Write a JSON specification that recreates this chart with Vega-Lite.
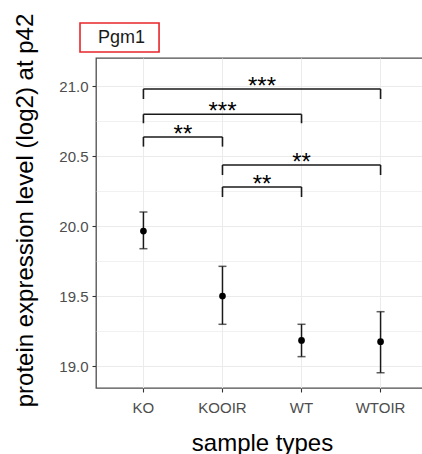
{
  "$schema": "https://vega.github.io/schema/vega-lite/v6.json",
  "width": 332,
  "height": 330,
  "autosize": {"type": "none"},
  "padding": {"left": 96, "top": 58, "right": 0, "bottom": 66},
  "config": {
    "font": "Liberation Sans",
    "view": {"stroke": "#4d4d4d", "strokeWidth": 1.3},
    "axis": {
      "domain": false,
      "gridColor": "#ebebeb",
      "tickColor": "#333333",
      "tickSize": 4,
      "tickWidth": 1.1,
      "labelColor": "#4d4d4d",
      "labelFontSize": 15,
      "titleFontSize": 24,
      "titleFontWeight": "normal",
      "titleColor": "#000000"
    }
  },
  "datasets": {
    "pts": [
      {"type": "KO", "mean": 19.964, "lo": 19.838, "hi": 20.10},
      {"type": "KOOIR", "mean": 19.50, "lo": 19.298, "hi": 19.712},
      {"type": "WT", "mean": 19.183, "lo": 19.067, "hi": 19.298},
      {"type": "WTOIR", "mean": 19.174, "lo": 18.952, "hi": 19.388}
    ],
    "br": [
      {"g1": "KO", "g2": "WTOIR", "y": 20.979, "yb": 20.907, "sig": "***", "lc": "KOOIR", "lp": "edge"},
      {"g1": "KO", "g2": "WT", "y": 20.798, "yb": 20.734, "sig": "***", "lc": "KOOIR", "lp": "center"},
      {"g1": "KO", "g2": "KOOIR", "y": 20.636, "yb": 20.567, "sig": "**", "lc": "KO", "lp": "edge"},
      {"g1": "KOOIR", "g2": "WTOIR", "y": 20.436, "yb": 20.364, "sig": "**", "lc": "WT", "lp": "center"},
      {"g1": "KOOIR", "g2": "WT", "y": 20.279, "yb": 20.207, "sig": "**", "lc": "KOOIR", "lp": "edge"}
    ],
    "ttl": [{"name": "Pgm1", "g": "KO", "top": 21.45, "bottom": 21.243, "mid": 21.346}]
  },
  "layer": [
    {
      "data": {"name": "pts"},
      "mark": {"type": "rule", "color": "#1a1a1a", "strokeWidth": 1.5},
      "encoding": {
        "x": {
          "field": "type", "type": "nominal",
          "scale": {"type": "band", "paddingInner": 0, "paddingOuter": 0.1, "domain": ["KO", "KOOIR", "WT", "WTOIR"]},
          "axis": {"title": "sample types", "labelAngle": 0, "labelPadding": 8, "titleY": 43, "grid": true, "gridWidth": 1, "bandPosition": 0.5, "tickExtra": false}
        },
        "y": {
          "field": "lo", "type": "quantitative",
          "scale": {"domain": [18.843, 21.2], "nice": false, "zero": false},
          "axis": {
            "title": "protein expression level (log2) at p42",
            "values": [19, 19.25, 19.5, 19.75, 20, 20.25, 20.5, 20.75, 21],
            "labelExpr": "datum.value % 0.5 == 0 ? format(datum.value, '.1f') : ''",
            "labelPadding": 4,
            "tickOpacity": {"condition": {"test": "datum.value % 0.5 != 0", "value": 0}, "value": 1},
            "gridWidth": {"condition": {"test": "datum.value % 0.5 != 0", "value": 0.7}, "value": 1.2},
            "titleX": -59,
            "titleY": 152
          }
        },
        "y2": {"field": "hi"}
      }
    },
    {
      "data": {"name": "pts"},
      "mark": {"type": "tick", "orient": "horizontal", "color": "#1a1a1a", "size": 8, "thickness": 1.5},
      "encoding": {"x": {"field": "type", "type": "nominal"}, "y": {"field": "lo", "type": "quantitative"}}
    },
    {
      "data": {"name": "pts"},
      "mark": {"type": "tick", "orient": "horizontal", "color": "#1a1a1a", "size": 8, "thickness": 1.5},
      "encoding": {"x": {"field": "type", "type": "nominal"}, "y": {"field": "hi", "type": "quantitative"}}
    },
    {
      "data": {"name": "pts"},
      "mark": {"type": "circle", "color": "#000000", "opacity": 1, "size": 45},
      "encoding": {"x": {"field": "type", "type": "nominal"}, "y": {"field": "mean", "type": "quantitative"}}
    },
    {
      "data": {"name": "br"},
      "mark": {"type": "rule", "color": "#1a1a1a", "strokeWidth": 1.6},
      "encoding": {"x": {"field": "g1", "type": "nominal", "bandPosition": 0.5}, "x2": {"field": "g2", "bandPosition": 0.5}, "y": {"field": "y", "type": "quantitative"}}
    },
    {
      "data": {"name": "br"},
      "mark": {"type": "rule", "color": "#1a1a1a", "strokeWidth": 1.6},
      "encoding": {"x": {"field": "g1", "type": "nominal"}, "y": {"field": "y", "type": "quantitative"}, "y2": {"field": "yb"}}
    },
    {
      "data": {"name": "br"},
      "mark": {"type": "rule", "color": "#1a1a1a", "strokeWidth": 1.6},
      "encoding": {"x": {"field": "g2", "type": "nominal"}, "y": {"field": "y", "type": "quantitative"}, "y2": {"field": "yb"}}
    },
    {
      "data": {"name": "br"},
      "transform": [{"filter": "datum.lp == 'center'"}],
      "mark": {"type": "text", "fontSize": 24, "color": "#000000", "baseline": "alphabetic", "dy": 5},
      "encoding": {"x": {"field": "lc", "type": "nominal", "bandPosition": 0.5}, "y": {"field": "y", "type": "quantitative"}, "text": {"field": "sig"}}
    },
    {
      "data": {"name": "br"},
      "transform": [{"filter": "datum.lp == 'edge'"}],
      "mark": {"type": "text", "fontSize": 24, "color": "#000000", "baseline": "alphabetic", "dy": 5},
      "encoding": {"x": {"field": "lc", "type": "nominal", "bandPosition": 1}, "y": {"field": "y", "type": "quantitative"}, "text": {"field": "sig"}}
    },
    {
      "data": {"name": "ttl"},
      "mark": {"type": "rect", "filled": false, "stroke": "#e8262a", "strokeWidth": 1.6, "xOffset": -23.9},
      "encoding": {"x": {"field": "g", "type": "nominal"}, "y": {"field": "top", "type": "quantitative"}, "y2": {"field": "bottom"}}
    },
    {
      "data": {"name": "ttl"},
      "mark": {"type": "text", "fontSize": 18, "color": "#1a1a1a", "baseline": "middle", "align": "center", "xOffset": -22},
      "encoding": {"x": {"field": "g", "type": "nominal"}, "y": {"field": "mid", "type": "quantitative"}, "text": {"field": "name"}}
    }
  ]
}
